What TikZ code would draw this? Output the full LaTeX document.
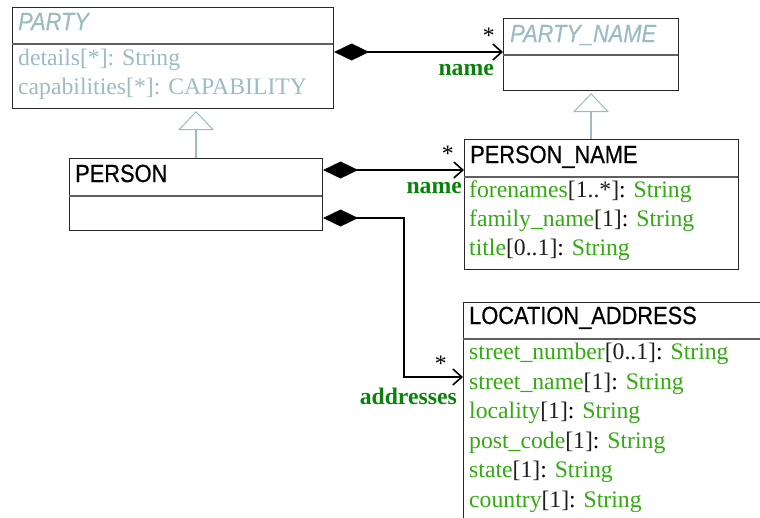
\documentclass[tikz,border=0pt]{standalone}
\usepackage{fontspec}
\setmainfont{Liberation Serif}
\newfontfamily\hdrfont[FakeStretch=0.88,FakeBold=0.6]{Liberation Sans}
\usetikzlibrary{arrows.meta}
\definecolor{abstr}{RGB}{155,188,192}
\definecolor{attrgreen}{RGB}{51,170,17}
\definecolor{rolegreen}{RGB}{10,130,10}
\definecolor{multc}{RGB}{30,30,30}
\definecolor{boxline}{RGB}{40,40,40}
\definecolor{divline}{RGB}{95,95,95}
\newcommand\umlattr[3]{\textcolor{attrgreen}{#1}\textcolor{multc}{#2}: \textcolor{attrgreen}{#3}}
\begin{document}
\begin{tikzpicture}[x=1pt,y=-1pt,
  umlbox/.style={draw=boxline, line width=1.1pt, inner sep=0pt, anchor=north west},
  divider/.style={draw=divline, line width=1.1pt},
  umltitle/.style={anchor=base west, inner sep=0pt, font=\hdrfont\fontsize{24.8}{28}\selectfont},
  umlline/.style={anchor=base west, inner sep=0pt, font=\fontsize{23.7}{29}\selectfont},
  rolelbl/.style={anchor=base east, inner sep=0pt, text=rolegreen, font=\fontsize{23.7}{29}\selectfont\bfseries},
  multlbl/.style={anchor=base east, inner sep=0pt, font=\fontsize{23.7}{29}\selectfont},
  comp/.style={line width=1.6pt, {Diamond[length=35pt,width=17pt]}-{Straight Barb[length=9pt,width=16pt]}},
  gen/.style={draw=abstr, line width=1.6pt, shorten >=2pt, -{Triangle[open, fill=white, length=19pt, width=36pt, line width=1pt]}}
]
\useasboundingbox (0,0) rectangle (760,517);
\clip (0,0) rectangle (760,517);

% PARTY
\node[umlbox, minimum width=321pt, minimum height=101pt] (party) at (12,7) {};
\draw[divider] (12,44) -- (333,44);
\node[umltitle, text=abstr, font=\hdrfont\itshape\fontsize{24.8}{28}\selectfont] (partyT) at (18,30) {PARTY};
\node[umlline, text=abstr] (partyA1) at (18,65) {details[*]: String};
\node[umlline, text=abstr] (partyA2) at (18,94) {capabilities[*]: CAPABILITY};

% PARTY_NAME
\node[umlbox, minimum width=175pt, minimum height=72pt] (pname) at (503,18) {};
\draw[divider] (503,55) -- (678,55);
\node[umltitle, text=abstr, font=\hdrfont\itshape\fontsize{24.8}{28}\selectfont] (pnameT) at (510,42) {PARTY\_NAME};

% PERSON
\node[umlbox, minimum width=253pt, minimum height=72pt] (person) at (69,158) {};
\draw[divider] (69,196) -- (322,196);
\node[umltitle] (personT) at (75,182) {PERSON};

% PERSON_NAME
\node[umlbox, minimum width=274pt, minimum height=130pt] (personname) at (464,139) {};
\draw[divider] (464,177) -- (738,177);
\node[umltitle] (personnameT) at (470,163) {PERSON\_NAME};
\node[umlline] (pnA1) at (469,197) {\umlattr{forenames}{[1..*]}{String}};
\node[umlline] (pnA2) at (469,226) {\umlattr{family\_name}{[1]}{String}};
\node[umlline] (pnA3) at (469,255) {\umlattr{title}{[0..1]}{String}};

% LOCATION_ADDRESS
\node[umlbox, minimum width=330pt, minimum height=240pt] (loc) at (463,302) {};
\draw[divider] (463,339) -- (800,339);
\node[umltitle] (locT) at (469,324) {LOCATION\_ADDRESS};
\node[umlline] (locA1) at (469,359) {\umlattr{street\_number}{[0..1]}{String}};
\node[umlline] (locA2) at (469,389) {\umlattr{street\_name}{[1]}{String}};
\node[umlline] (locA3) at (469,418) {\umlattr{locality}{[1]}{String}};
\node[umlline] (locA4) at (469,448) {\umlattr{post\_code}{[1]}{String}};
\node[umlline] (locA5) at (469,477) {\umlattr{state}{[1]}{String}};
\node[umlline] (locA6) at (469,507) {\umlattr{country}{[1]}{String}};

% generalisations
\draw[gen] (person.north) -- (person.north |- party.south);
\draw[gen] (pname.south |- personname.north) -- (pname.south);

% compositions
\coordinate (yA) at (0,52);
\coordinate (yB) at (0,170);
\coordinate (yC) at (0,218);
\coordinate (bend) at (404,377);
\draw[comp] (party.east |- yA) -- (pname.west |- yA);
\draw[comp] (person.east |- yB) -- (personname.west |- yB);
\draw[comp] (person.east |- yC) -| (bend) -- (loc.west |- bend);

% labels
\node[multlbl] (m1) at (495,43) {*};
\node[rolelbl] (r1) at (494,75) {name};
\node[multlbl] (m2) at (454,161) {*};
\node[rolelbl] (r2) at (462,193) {name};
\node[multlbl] (m3) at (447,371) {*};
\node[rolelbl] (r3) at (457,404) {addresses};
\end{tikzpicture}
\end{document}
